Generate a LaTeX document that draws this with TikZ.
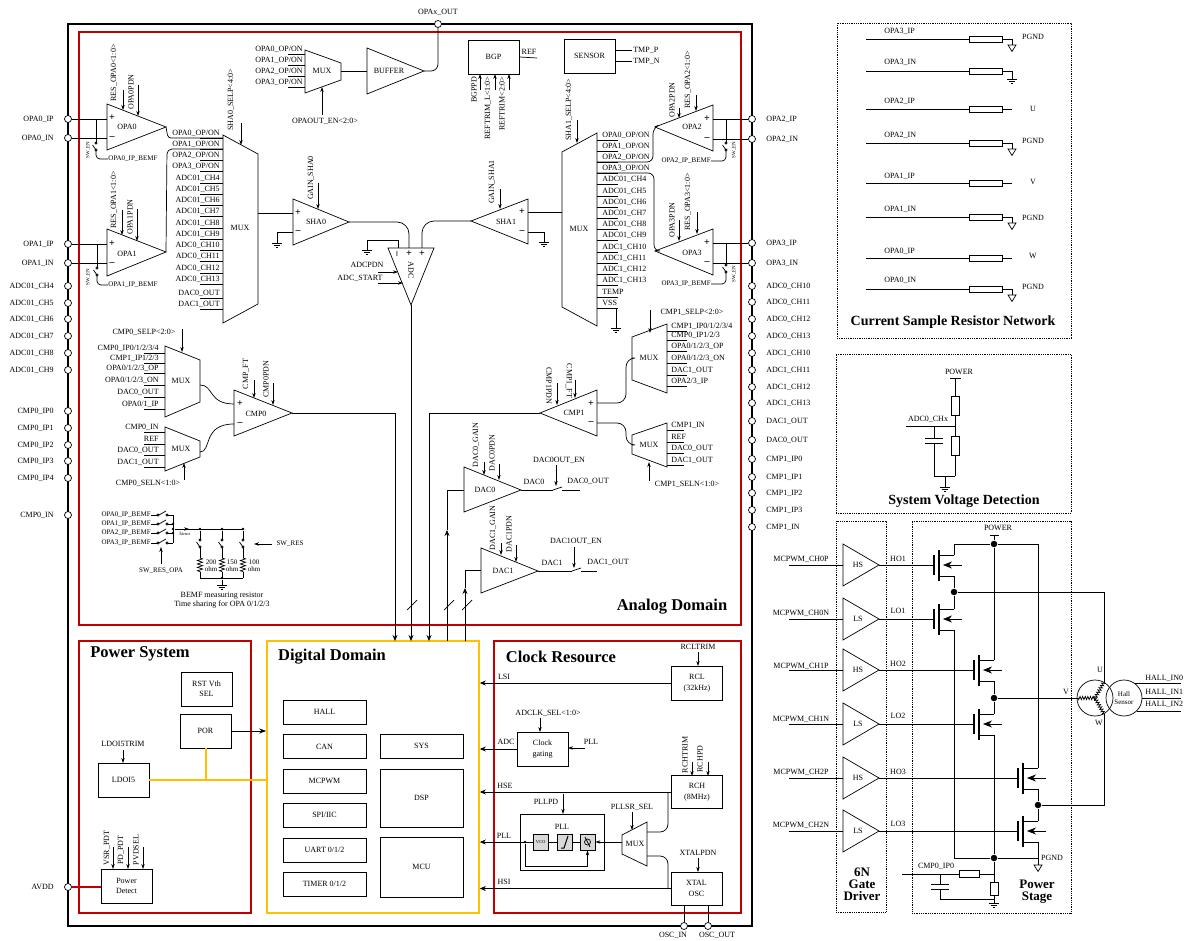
\documentclass[tikz,border=0pt]{standalone}
\usepackage{fontspec}
\setmainfont{Liberation Serif}
\usetikzlibrary{arrows.meta,decorations.pathmorphing}
\catcode`\_=12
\definecolor{domred}{HTML}{C00000}
\definecolor{domgold}{HTML}{FFC000}
\definecolor{cellgrey}{HTML}{D9D9D9}
\tikzset{
  lab/.style={font=\fontsize{8}{9}\selectfont,inner sep=0pt,align=center},
  smalllab/.style={font=\fontsize{7}{7.5}\selectfont,inner sep=0pt,align=center},
  tinylab/.style={font=\fontsize{5}{5}\selectfont,inner sep=0pt},
  domtitle/.style={font=\bfseries\fontsize{16.5}{18}\selectfont,inner sep=0pt},
  subtitle/.style={font=\bfseries\fontsize{14}{14}\selectfont,inner sep=0pt,align=center},
  stacktitle/.style={font=\bfseries\fontsize{13}{12}\selectfont,inner sep=0pt,align=center},
  sign/.style={font=\bfseries\fontsize{10}{10}\selectfont,inner sep=0pt},
  ctl/.style={-{Stealth[length=5pt,width=3.4pt]}},
  bigarr/.style={-{Stealth[length=6pt,width=5pt]}},
  pinpt/.style={circle,draw,fill=white,inner sep=0pt,minimum size=7pt},
  dotn/.style={circle,fill=black,inner sep=0pt,minimum size=6.5pt},
  dots/.style={circle,fill=black,inner sep=0pt,minimum size=2.6pt},
  block/.style={draw,line width=.9pt,fill=white,inner sep=0pt,align=center,font=\fontsize{8}{10.5}\selectfont},
  domain/.style={draw=#1,line width=1.7pt,inner sep=0pt},
  dotbox/.style={draw,densely dotted,line width=.8pt,inner sep=0pt},
  pllcell/.style={draw,line width=.8pt,fill=cellgrey,inner sep=0pt,minimum width=15pt,minimum height=16pt,font=\fontsize{4.5}{5}\selectfont},
  coilwire/.style={decorate,decoration={zigzag,segment length=2.6pt,amplitude=1.6pt}},
  resz/.style={decorate,decoration={zigzag,segment length=3.4pt,amplitude=2.6pt}},
  gnd/.pic={\coordinate (-o) at (0,0);
    \draw (-5,0) -- (5,0); \draw (-3.2,2.4) -- (3.2,2.4); \draw (-1.4,4.8) -- (1.4,4.8);},
  pgnd/.pic={\coordinate (-o) at (0,0);
    \draw (-4,0) -- (4,0) -- (0,6.5) -- cycle;},
  capv/.pic={\coordinate (-a) at (0,0); \coordinate (-b) at (0,5);
    \draw (-9,0) -- (9,0); \draw (-9,5) -- (9,5);},
  swv/.pic={\coordinate (-a) at (0,-1.2); \coordinate (-b) at (0,8.2);
    \draw (0,0) circle[radius=1.2]; \draw (0,7) circle[radius=1.2]; \draw (-3.5,2) -- (0,7);},
  swh/.pic={\coordinate (-a) at (-1.2,0); \coordinate (-b) at (10.2,0);
    \draw (0,0) circle[radius=1.2]; \draw (9,0) circle[radius=1.2]; \draw (1,0) -- (8,-4);},
  swd/.pic={\coordinate (-a) at (0,0); \coordinate (-b) at (9,0);
    \draw (0,0) -- (9,-3);},
  fet/.pic={\coordinate (-g) at (0,0); \coordinate (-d) at (20,-10); \coordinate (-s) at (20,11);
    \draw[line width=1.1pt] (0,-10) -- (0,10);
    \draw[line width=1.1pt] (5,-15) -- (5,16);
    \draw (5,-10) -- (20,-10);
    \draw (5,11) -- (20,11);
    \draw[-{Stealth[length=9pt,width=7pt]}] (28,0) -- (9,0);},
}
\newcommand{\muxins}[6]{%
  \foreach \y/\lab [count=\i] in {#6} {
    \node[lab,anchor=#5] (#1-t\i) at (#4,\y) {\lab};
    \coordinate (#1-in\i) at (#2,\y+5);
    \coordinate (#1-st\i) at (#3,\y+5);
    \draw (#1-st\i) -- (#1-in\i);
  }}
\begin{document}
\begin{tikzpicture}[x=1pt,y=-1pt,line width=.7pt]
  \useasboundingbox (0,0) rectangle (1189,941);

  % frames
  \node[draw,line width=1.2pt,minimum width=684pt,minimum height=902pt,inner sep=0pt] (chipbox) at (410,475) {};
  \node[domain=domred,minimum width=662pt,minimum height=593pt] (analog) at (410,328.5) {};
  \node[domain=domred,minimum width=172pt,minimum height=272pt] (power) at (165,777) {};
  \node[domain=domgold,minimum width=212pt,minimum height=272pt] (digital) at (373,777) {};
  \node[domain=domred,minimum width=247pt,minimum height=272pt] (clock) at (617.5,777) {};
  \node[domtitle] (analog-lab) at (672,607) {Analog Domain};
  \node[domtitle] (power-lab) at (140,654) {Power System};
  \node[domtitle] (digital-lab) at (332,657) {Digital Domain};
  \node[domtitle] (clock-lab) at (561,657) {Clock Resource};

  % pins
  \foreach \n/\y/\lab in {opa0ip/119/OPA0_IP,opa0in/138/OPA0_IN,opa1ip/244/OPA1_IP,opa1in/263/OPA1_IN,
      a4/286/ADC01_CH4,a5/303/ADC01_CH5,a6/319/ADC01_CH6,a7/336/ADC01_CH7,a8/353/ADC01_CH8,a9/370/ADC01_CH9,
      c0/411/CMP0_IP0,c1/428/CMP0_IP1,c2/445/CMP0_IP2,c3/461/CMP0_IP3,c4/478/CMP0_IP4,c5/515/CMP0_IN,avdd/887/AVDD} {
    \node[pinpt] (\n) at (68,\y) {};
    \node[lab,anchor=east] (\n-lab) at (54,\y) {\lab};
  }
  \foreach \n/\y/\lab in {opa2ip/119/OPA2_IP,opa2in/139/OPA2_IN,opa3ip/243/OPA3_IP,opa3in/263/OPA3_IN,
      b0/286/ADC0_CH10,b1/302/ADC0_CH11,b2/319/ADC0_CH12,b3/336/ADC0_CH13,
      d0/353/ADC1_CH10,d1/370/ADC1_CH11,d2/387/ADC1_CH12,d3/403/ADC1_CH13,
      e1/421/DAC1_OUT,e0/440/DAC0_OUT,f0/459/CMP1_IP0,f1/477/CMP1_IP1,f2/493/CMP1_IP2,f3/510/CMP1_IP3,f4/527/CMP1_IN} {
    \node[pinpt] (\n) at (752,\y) {};
    \node[lab,anchor=west] (\n-lab) at (766,\y) {\lab};
  }
  \node[pinpt] (opax) at (438,24) {};
  \node[pinpt] (oscin) at (684,926) {};
  \node[pinpt] (oscout) at (708,926) {};

  % amplifiers
  \draw (107,104) coordinate (opa0-u) -- (166,127) coordinate (opa0-t) -- (107,150) coordinate (opa0-d) -- cycle;
  \draw (107,229) coordinate (opa1-u) -- (166,252) coordinate (opa1-t) -- (107,276) coordinate (opa1-d) -- cycle;
  \draw (713,105) coordinate (opa2-u) -- (655,127) coordinate (opa2-t) -- (713,151) coordinate (opa2-d) -- cycle;
  \draw (713,229) coordinate (opa3-u) -- (655,251) coordinate (opa3-t) -- (713,275) coordinate (opa3-d) -- cycle;
  \draw (293,199) coordinate (sha0-u) -- (349,222) coordinate (sha0-t) -- (293,245) coordinate (sha0-d) -- cycle;
  \draw (528,199) coordinate (sha1-u) -- (471,221) coordinate (sha1-t) -- (528,244) coordinate (sha1-d) -- cycle;
  \draw (234,390) coordinate (cmp0-u) -- (292,413) coordinate (cmp0-t) -- (234,436) coordinate (cmp0-d) -- cycle;
  \draw (597,390) coordinate (cmp1-u) -- (540,413) coordinate (cmp1-t) -- (597,436) coordinate (cmp1-d) -- cycle;
  \draw (464,467) coordinate (dac0-u) -- (521,490) coordinate (dac0-t) -- (464,512) coordinate (dac0-d) -- cycle;
  \draw (481,548) coordinate (dac1-u) -- (538,571) coordinate (dac1-t) -- (481,593) coordinate (dac1-d) -- cycle;
  \draw (367,48) coordinate (buf-u) -- (424,71) coordinate (buf-t) -- (367,94) coordinate (buf-d) -- cycle;
  \draw (388,248) coordinate (adc-l) -- (434,248) coordinate (adc-r) -- (411,305) coordinate (adc-t) -- cycle;

  % muxes
  \draw (223,135) coordinate (muxa-u) -- (258,154) -- (258,304) -- (223,323) -- cycle;
  \draw (562,152) -- (597,133) coordinate (muxb-u) -- (597,326) -- (562,307) -- cycle;
  \draw (305,50) -- (341,63) -- (341,80) -- (305,93) -- cycle;
  \draw (165,346) -- (200,360) -- (200,402) -- (165,417) -- cycle;
  \draw (165,427) -- (200,441) -- (200,457) -- (165,471) -- cycle;
  \draw (632,337) -- (667,324) -- (667,393) -- (632,380) -- cycle;
  \draw (632,435) -- (667,423) -- (667,467) -- (632,454) -- cycle;
  \draw (622,835) -- (647,822) -- (647,866) -- (622,854) -- cycle;

  \muxins{muxa}{223}{200}{220}{east}{133/{OPA0_OP/ON},144/{OPA1_OP/ON},155/{OPA2_OP/ON},166/{OPA3_OP/ON},178/ADC01_CH4,189/ADC01_CH5,200/ADC01_CH6,211/ADC01_CH7,223/ADC01_CH8,234/ADC01_CH9,245/ADC0_CH10,256/ADC0_CH11,268/ADC0_CH12,279/ADC0_CH13,293/DAC0_OUT,304/DAC1_OUT}
  \muxins{muxb}{597}{618}{602}{west}{135/{OPA0_OP/ON},146/{OPA1_OP/ON},157/{OPA2_OP/ON},168/{OPA3_OP/ON},179/ADC01_CH4,191/ADC01_CH5,202/ADC01_CH6,213/ADC01_CH7,224/ADC01_CH8,235/ADC01_CH9,247/ADC1_CH10,258/ADC1_CH11,269/ADC1_CH12,280/ADC1_CH13,292/TEMP,303/VSS}
  \muxins{muxc}{305}{288}{303}{east}{49/{OPA0_OP/ON},60/{OPA1_OP/ON},71/{OPA2_OP/ON},82/{OPA3_OP/ON}}
  \muxins{muxd}{165}{144}{159}{east}{348/{CMP0_IP0/1/2/3/4},358/{CMP1_IP1/2/3},368/{OPA0/1/2/3_OP},380/{OPA0/1/2/3_ON},392/DAC0_OUT,404/{OPA0/1_IP}}
  \muxins{muxe}{165}{144}{159}{east}{427/CMP0_IN,439/REF,450/DAC0_OUT,462/DAC1_OUT}
  \muxins{muxf}{667}{687}{671}{west}{326/{CMP1_IP0/1/2/3/4},335/{CMP0_IP1/2/3},346/{OPA0/1/2/3_OP},358/{OPA0/1/2/3_ON},370/DAC1_OUT,381/{OPA2/3_IP}}
  \muxins{muxg}{667}{684}{671}{west}{425/CMP1_IN,437/REF,448/DAC0_OUT,460/DAC1_OUT}

  % plain labels
  \foreach \n/\x/\y/\lab in {l1/127/127/OPA0,l2/127/254/OPA1,l3/692/127/OPA2,l4/692/253/OPA3,
      l5/240/228/MUX,l6/579/229/MUX,l7/322/71/MUX,l8/181/381/MUX,l9/181/449/MUX,l10/649/358/MUX,l11/649/445/MUX,
      l12/389/71/BUFFER,l13/316/222/SHA0,l14/506/222/SHA1,l15/256/414/CMP0,l16/574/413/CMP1,l17/485/490/DAC0,l18/503/571/DAC1,
      l19/325/121/{OPAOUT_EN<2:0>},l20/529/52/REF,l21/367/265/ADCPDN,l22/360/278/ADC_START,
      l23/144/332/{CMP0_SELP<2:0>},l24/148/483/{CMP0_SELN<1:0>},l25/692/312/{CMP1_SELP<2:0>},l26/687/484/{CMP1_SELN<1:0>},
      l27/534/482/DAC0,l28/588/481/DAC0_OUT,l29/559/460/DAC0OUT_EN,l30/552/563/DAC1,l31/608/562/DAC1_OUT,l32/576/541/DAC1OUT_EN,
      l33/123/744/LDOI5TRIM,l34/698/647/RCLTRIM,l35/504/677/LSI,l36/506/742/ADC,l37/548/713/{ADCLK_SEL<1:0>},l38/591/742/PLL,
      l39/505/786/HSE,l40/546/802/PLLPD,l41/504/836/PLL,l42/632/807/PLLSR_SEL,l43/635/844/MUX,l44/504/882/HSI,l45/698/853/XTALPDN,
      l46/673/935/OSC_IN,l47/717/935/OSC_OUT,l48/438/12/OPAx_OUT} {
    \node[lab] (\n) at (\x,\y) {\lab};
  }
  \foreach \n/\x/\y/\lab in {r1/114/73/{RES_OPA0<1:0>},r2/131/92/OPA0PDN,r3/114/200/{RES_OPA1<1:0>},r4/130/217/OPA1PDN,
      r5/231/100/{SHA0_SELP<4:0>},r6/311/178/GAIN_SHA0,r7/474/90/BGPPD,r8/488/108/{REFTRIM_L<1:0>},r9/502/104/{REFTRIM<2:0>},
      r10/569/110/{SHA1_SELP<4:0>},r11/492/182/GAIN_SHA1,r12/672/100/OPA2PDN,r13/688/80/{RES_OPA2<1:0>},r14/672/220/OPA3PDN,r15/688/202/{RES_OPA3<1:0>},
      r16/246/374/CMP_FT,r17/266/379/CMP0PDN,r18/476/445/DAC0_GAIN,r19/492/453/DAC0PDN,r20/493/528/DAC1_GAIN,r21/509/534/DAC1PDN,
      r22/107/848/VSR_PDT,r23/121/850/PD_PDT,r24/136/850/PVDSEL,r25/685/755/RCHTRIM,r26/700/759/RCHPD} {
    \node[lab,rotate=90] (\n) at (\x,\y) {\lab};
  }
  \node[lab,rotate=-90] (adc-lab) at (411,270) {ADC};
  \node[lab,rotate=-90] (cmp1pdn) at (549,386) {CMP1PDN};
  \node[lab,rotate=-90] (cmp1ft) at (569,381) {CMP1_FT};

  % plus and minus inputs
  \foreach \n/\x/\yp/\ym in {opa0/112/118/138,opa1/112/244/264,sha0/298/213/232,sha1/522/212/232,opa2/707/119/139,opa3/707/243/263,cmp0/240/404/424,cmp1/591/404/423} {
    \node[sign] (\n-plus) at (\x,\yp) {+};
    \node[sign] (\n-minus) at (\x,\ym) {–};
  }
  \node[sign,rotate=90] (adc-minus) at (398,254) {–};
  \node[sign] (adc-plus1) at (409,254) {+};
  \node[sign] (adc-plus2) at (422,254) {+};

  % control arrows
  \foreach \xa/\ya/\xb/\yb [count=\i] in {123/90/123/110,138/85/138/116,122/210/122/235,137/209/137/241,241/123/241/145,318/183/318/209,
      322/115/322/87,378/272/398/272,378/283/403/283,480/90/480/74,495/90/495/74,509/90/509/74,577/120/577/143,500/189/500/209,
      679/108/679/118,696/95/696/111,679/220/679/241,697/212/697/234,182/329/182/352,184/480/184/463,254/380/254/398,273/383/273/405,
      650/310/650/333,649/481/649/462,557/383/557/405,575/380/575/398,484/462/484/475,499/464/499/480,556/465/556/486,
      501/543/501/555,516/545/516/562,574/547/574/568,272/544/254/544,161/564/161/547,123/750/123/763,
      113/847/113/869,128/847/128/869,143/847/143/869,698/652/698/666,540/718/540/732,585/748/568/748,692/762/692/776,708/762/708/776,
      563/794/563/814,632/812/632/830,698/858/698/872} {
    \coordinate (ca\i) at (\xa,\ya);
    \coordinate (cb\i) at (\xb,\yb);
    \draw[ctl] (ca\i) -- (cb\i);
  }

  % op amp inputs and BEMF taps
  \foreach \n/\s in {opa0ip/opa0-u,opa0in/opa0-u,opa1ip/opa1-u,opa1in/opa1-u,opa2ip/opa2-u,opa2in/opa2-u,opa3ip/opa3-u,opa3in/opa3-u}
    \draw (\n) -- (\n -| \s);
  \foreach \n/\x/\yt/\ya/\ye/\xe/\anc/\lab/\sy in {tp0/96/119/143/159/108/west/OPA0_IP_BEMF/150,tp1/97/244/268/285/108/west/OPA1_IP_BEMF/277,
      tp2/726/119/143/161/711/east/OPA2_IP_BEMF/150,tp3/726/243/265/284/711/east/OPA3_IP_BEMF/274} {
    \coordinate (\n) at (\x,\yt);
    \pic (\n-sw) at (\x,\ya) {swv};
    \node[smalllab,anchor=\anc] (\n-lab) at (\xe,\ye) {\lab};
    \draw (\n) -- (\n-sw-a);
    \draw[rounded corners=4pt] (\n-sw-b) |- (\n-lab.\anc);
  }
  \foreach \n/\x/\y in {sw0/88/150,sw1/88/277,sw2/734/150,sw3/734/274}
    \node[tinylab,rotate=90] (\n) at (\x,\y) {SW_EN};

  % analog wiring
  \draw[rounded corners=3pt] (opa0-t) -- (168,138) -- (muxa-in1);
  \draw[rounded corners=5pt] (opa1-t) -- (167,149) -- (muxa-in2);
  \draw[rounded corners=6pt] (opa2-t) -- (653,128) -- (653,162) -- (muxb-in3);
  \draw[rounded corners=6pt] (opa3-t) -- (654,251) -- (654,173) -- (muxb-in4);
  \coordinate (muxa-o) at (258,213);
  \draw (muxa-o) -- (muxa-o -| sha0-u);
  \coordinate (muxb-o) at (562,212);
  \draw (muxb-o) -- (muxb-o -| sha1-u);
  \pic (g1) at (277,243) {gnd};
  \coordinate (sha0-m) at (293,232);
  \draw (sha0-m) -| (g1-o);
  \pic (g2) at (544,242) {gnd};
  \coordinate (sha1-m) at (528,232);
  \draw (sha1-m) -| (g2-o);
  \pic (g3) at (367,250) {gnd};
  \coordinate (adc-im) at (398,248);
  \coordinate (adc-ip1) at (409,248);
  \coordinate (adc-ip2) at (422,248);
  \draw (adc-im) -- (398,240) -- (367,240) -- (g3-o);
  \draw[rounded corners=12pt] (sha0-t) -- (409,222) -- (adc-ip1);
  \draw[rounded corners=12pt] (sha1-t) -- (422,221) -- (adc-ip2);
  \pic (g4) at (616,328) {gnd};
  \draw (muxb-in16) -| (g4-o);
  \coordinate (muxc-o) at (341,71);
  \draw (muxc-o) -- (muxc-o -| buf-u);
  \draw[rounded corners=7pt] (buf-t) -- (438,71) -- (opax);
  % comparators
  \coordinate (muxd-o) at (200,385);
  \coordinate (cmp0-p) at (234,404);
  \draw (muxd-o) .. controls (214,385) and (208,404) .. (cmp0-p);
  \coordinate (muxe-o) at (200,452);
  \coordinate (cmp0-m) at (234,424);
  \draw (muxe-o) .. controls (212,452) and (202,424) .. (cmp0-m);
  \coordinate (cmp1-p) at (597,403);
  \coordinate (muxf-o) at (632,358);
  \draw[rounded corners=9pt] (cmp1-p) -- (626,403) -- (626,358) -- (muxf-o);
  \coordinate (cmp1-m) at (597,423);
  \coordinate (muxg-o) at (632,445);
  \draw[rounded corners=9pt] (cmp1-m) -- (626,423) -- (626,445) -- (muxg-o);
  % digital bus
  \coordinate (dig-a) at (395,641);
  \coordinate (dig-b) at (411,641);
  \coordinate (dig-c) at (429,641);
  \coordinate (dig-d) at (447,641);
  \coordinate (dig-e) at (465,641);
  \coordinate (dac0-m) at (447,530);
  \coordinate (dac1-m) at (465,588);
  \draw[bigarr] (cmp0-t) -| (dig-a);
  \draw[bigarr] (adc-t) -- (dig-b);
  \draw[bigarr] (cmp1-t) -| (dig-c);
  \draw[bigarr] (dig-d) -- (dac0-m);
  \draw[bigarr] (dig-e) -- (dac1-m);
  \coordinate (dac0-i) at (464,490);
  \coordinate (dac1-i) at (481,570);
  \draw (dac0-m) |- (dac0-i);
  \draw (dac1-m) |- (dac1-i);
  \foreach \x in {412,449,467}
    \draw (\x-5,610) -- (\x+5,600);
  % dac switches
  \pic (swa) at (553,490) {swd};
  \pic (swb) at (572,571) {swd};
  \coordinate (dac0-o) at (580,490);
  \coordinate (dac1-o) at (597,571);
  \draw (dac0-t) -- (swa-a);
  \draw (swa-b) -- (dac0-o);
  \draw (dac1-t) -- (swb-a);
  \draw (swb-b) -- (dac1-o);

  % bandgap and sensor
  \node[block,minimum width=51pt,minimum height=34pt] (bgp) at (493.5,57) {BGP};
  \coordinate (bgp-o) at (537,58);
  \draw (bgp.east) -- (bgp-o);
  \node[block,minimum width=51pt,minimum height=34pt] (sensor) at (589.5,56) {SENSOR};
  \foreach \n/\y/\lab in {tmpp/50/TMP_P,tmpn/61/TMP_N} {
    \coordinate (\n-a) at (615,\y);
    \coordinate (\n-b) at (632,\y);
    \draw (\n-a) -- (\n-b);
    \node[lab,anchor=west] (\n) at (633,\y) {\lab};
  }

  % BEMF resistors
  \foreach \y/\lab [count=\i] in {515/OPA0_IP_BEMF,524/OPA1_IP_BEMF,533/OPA2_IP_BEMF,543/OPA3_IP_BEMF} {
    \node[smalllab,anchor=east] (bm\i) at (151,\y) {\lab};
    \pic (bs\i) at (158,\y) {swh};
    \coordinate (bb\i) at (173,\y);
    \draw (bm\i.east) -- (bs\i-a);
    \draw (bs\i-b) -- (bb\i);
  }
  \draw (bb1) -- (bb4);
  \node[dots] (bjoin) at (173,529) {};
  \node[dots] (bjoin2) at (173,524) {};
  \node[dots] (bjoin3) at (173,533) {};
  \coordinate (bend) at (243,529);
  \draw (bjoin) -- (bend);
  \coordinate (iarr-a) at (182,529);
  \coordinate (iarr-b) at (189,529);
  \draw[ctl] (iarr-a) -- (iarr-b);
  \node[tinylab,anchor=west] (ilab) at (179,534) {I\raisebox{-.5pt}{\fontsize{4}{4}\selectfont detect}};
  \foreach \x/\r/\lx in {200/200/211,222/150/232,243/100/254} {
    \node[dots] (bt\x) at (\x,529) {};
    \pic (bw\x) at (\x,540) {swv};
    \coordinate (br\x-a) at (\x,558);
    \coordinate (br\x-b) at (\x,572);
    \coordinate (br\x-c) at (\x,578);
    \draw (bt\x) -- (bw\x-a);
    \draw (bw\x-b) -- (br\x-a);
    \draw[resz] (br\x-a) -- (br\x-b);
    \draw (br\x-b) -- (br\x-c);
    \node[smalllab] (bv\x) at (\lx,565.5) {\r\\ohm};
  }
  \draw (br200-c) -- (br243-c);
  \node[dots] (bgnd) at (222,578) {};
  \pic (g5) at (222,585) {gnd};
  \draw (bgnd) -- (g5-o);
  \node[smalllab] (swres) at (290,544) {SW_RES};
  \node[smalllab] (swresopa) at (161,571) {SW_RES_OPA};
  \node[lab] (bemf-lab) at (222,600) {BEMF measuring resistor\\Time sharing for OPA 0/1/2/3};

  % power system
  \node[block,minimum width=51pt,minimum height=34pt] (rstvth) at (206.5,689) {RST Vth\\SEL};
  \node[block,minimum width=51pt,minimum height=34pt] (por) at (205.5,731) {POR};
  \node[block,minimum width=51pt,minimum height=34pt] (ldo) at (123.5,780) {LDOI5};
  \node[block,minimum width=51pt,minimum height=34pt] (pdet) at (126.5,886) {Power\\Detect};
  \draw[-{Stealth[length=7pt,width=5pt]}] (por.east) -- (por.east -| digital.west);
  \draw[domgold,line width=2pt] (ldo.east) -- (ldo.east -| digital.west);
  \draw[domgold,line width=2pt] (por.south) -- (por.south |- ldo);
  \draw[domred,line width=1.5pt] (avdd) -- (avdd -| pdet.west);

  % digital domain
  \foreach \n/\y/\lab in {hall/712/HALL,can/746.5/CAN,mcpwm/781/MCPWM,spi/815/{SPI/IIC},uart/850/{UART 0/1/2},timer/884/{TIMER 0/1/2}}
    \node[block,minimum width=83pt,minimum height=24pt] (\n) at (324.5,\y) {\lab};
  \foreach \n/\y/\h/\lab in {sys/746/24/SYS,dsp/798/58/DSP,mcu/867/60/MCU}
    \node[block,minimum width=83pt,minimum height=\h pt] (\n) at (421.5,\y) {\lab};

  % clock resource
  \node[block,minimum width=51pt,minimum height=34pt] (rcl) at (697,683) {RCL\\(32kHz)};
  \node[block,minimum width=51pt,minimum height=34pt] (gate) at (542.5,749) {Clock\\gating};
  \node[block,minimum width=51pt,minimum height=33pt] (rch) at (697,792) {RCH\\(8MHz)};
  \node[block,minimum width=51pt,minimum height=33pt] (xtal) at (696.5,888.5) {XTAL\\OSC};
  \node[block,minimum width=84pt,minimum height=56pt] (pllbox) at (562,842) {};
  \node[lab] (pll-lab) at (562,827) {PLL};
  \node[pllcell] (vco) at (540.5,842) {VCO};
  \node[pllcell] (lpf) at (564.5,842) {};
  \node[pllcell] (pfd) at (587.5,842) {};
  \draw[line width=1pt] (561,848) -- (564,848) -- (568,836);
  \draw (587.5,842) circle[radius=3];
  \draw (585,837) -- (590,847);
  \foreach \n in {rcl,gate,rch,xtal}
    \draw[bigarr] (\n.west) -- (\n.west -| digital.east);
  \draw[bigarr] (vco.west) -- (vco.west -| digital.east);
  \draw (pfd) -- (lpf);
  \draw (lpf) -- (vco);
  \node[dots] (fbj) at (525,842) {};
  \draw[ctl] (fbj) -- (525,866) -| (pfd.south);
  \coordinate (pmux-o) at (622,842);
  \draw[ctl] (pmux-o) -- (pfd.east);
  \coordinate (pmux-a) at (647,832);
  \coordinate (pmux-b) at (647,856);
  \coordinate (hse-j) at (668,792);
  \coordinate (hsi-j) at (668,888.5);
  \draw[rounded corners=8pt] (pmux-a) -- (668,832) -- (hse-j);
  \draw[rounded corners=8pt] (pmux-b) -- (668,856) -- (hsi-j);
  \draw (oscin) -- (oscin |- xtal.south);
  \draw (oscout) -- (oscout |- xtal.south);

  % current sample resistors
  \node[dotbox,minimum width=234pt,minimum height=315pt] (csbox) at (954,180.5) {};
  \foreach \y/\ty/\lab [count=\i] in {39/31/OPA3_IP,71/62/OPA3_IN,109/101/OPA2_IP,143/135/OPA2_IN,183/176/OPA1_IP,217/209/OPA1_IN,258/251/OPA0_IP,289/280/OPA0_IN} {
    \coordinate (rs\i-a) at (866,\y);
    \coordinate (rs\i-b) at (1012,\y);
    \node[draw,inner sep=0pt,minimum width=33pt,minimum height=6pt] (rs\i) at (985.5,\y) {};
    \draw (rs\i-a) -- (rs\i.west);
    \draw (rs\i.east) -- (rs\i-b);
    \node[lab,anchor=west] (rs\i-lab) at (884,\ty) {\lab};
  }
  \foreach \i/\y in {1/39,4/143,6/217,8/289} {
    \pic (rp\i) at (1012,\y+6) {pgnd};
    \draw (rs\i-b) -- (rp\i-o);
  }
  \pic (rp2) at (1012,79) {gnd};
  \draw (rs2-b) -- (rp2-o);
  \foreach \n/\y/\lab in {pa/37/PGND,pb/109/U,pc/141/PGND,pd/182/V,pe/218/PGND,pf/256/W,pg/287/PGND}
    \node[lab] (\n) at (1033,\y) {\lab};
  \node[subtitle] (cs-lab) at (953,322) {Current Sample Resistor Network};

  % system voltage detection
  \node[dotbox,minimum width=235pt,minimum height=159pt] (svbox) at (953.5,433.5) {};
  \node[lab] (sv-pow) at (959,372) {POWER};
  \coordinate (sv-top) at (955,378);
  \draw (950,378) -- (961,378);
  \node[draw,inner sep=0pt,minimum width=8pt,minimum height=19pt] (sv1) at (955,405.5) {};
  \node[draw,inner sep=0pt,minimum width=8pt,minimum height=19pt] (sv2) at (955,445.5) {};
  \coordinate (sv-j) at (955,426);
  \coordinate (sv-a) at (906,426);
  \coordinate (sv-c) at (934,426);
  \coordinate (sv-b) at (955,476);
  \coordinate (sv-d) at (934,476);
  \pic (svc) at (934,438) {capv};
  \pic (g6) at (945,487) {gnd};
  \draw (sv-top) -- (sv1.north);
  \draw (sv1.south) -- (sv2.north);
  \draw (sv2.south) -- (sv-b);
  \draw (sv-a) -- (sv-j);
  \draw (sv-c) -- (svc-a);
  \draw (svc-b) -- (sv-d);
  \draw (sv-d) -- (sv-b);
  \coordinate (sv-g) at (945,476);
  \draw (sv-g) -- (g6-o);
  \node[lab] (sv-adc) at (928,419) {ADC0_CHx};
  \node[subtitle] (sv-lab) at (964,501) {System Voltage Detection};

  % gate driver and power stage
  \node[dotbox,minimum width=50pt,minimum height=391pt] (gdbox) at (861,716.5) {};
  \node[dotbox,minimum width=159pt,minimum height=392pt] (psbox) at (991.5,717) {};
  \foreach \n/\k/\y/\lab/\o/\ly/\oy/\x in {1/HS/565/MCPWM_CH0P/HO1/559/559/934,2/LS/619/MCPWM_CH0N/LO1/613/611/934,3/HS/670/MCPWM_CH1P/HO2/666/664/974,
      4/LS/724/MCPWM_CH1N/LO2/719/716/974,5/HS/778/MCPWM_CH2P/HO3/772/772/1018,6/LS/831/MCPWM_CH2N/LO3/825/824/1018} {
    \draw (843,\y-21) coordinate (gd\n-u) -- (879,\y) coordinate (gd\n-t) -- (843,\y+21) -- cycle;
    \node[lab] (gd\n) at (858,\y) {\k};
    \coordinate (gd\n-i) at (789,\y);
    \draw (gd\n-i) -- (gd\n-i -| gd\n-u);
    \node[lab] (gd\n-in) at (801,\ly) {\lab};
    \node[lab] (gd\n-out) at (898,\oy) {\o};
    \pic (q\n) at (\x,\y) {fet};
    \draw (gd\n-t) -- (q\n-g);
  }
  \node[dotn] (npow) at (994,544) {};
  \node[dotn] (nu) at (954,592) {};
  \node[dotn] (nv) at (994,698) {};
  \node[dotn] (nw) at (1038,805) {};
  \node[dotn] (ngnd) at (994,858) {};
  \coordinate (powbar) at (994,535);
  \draw (990,535) -- (999,535);
  \node[lab] (pow-lab) at (998,528) {POWER};
  \draw (npow) -- (powbar);
  \draw (q1-d) |- (npow);
  \draw (npow) -| (q5-d);
  \draw (npow) -- (q3-d);
  \draw (q1-s) -- (nu);
  \draw (q2-d) -- (nu);
  \draw (q2-s) |- (ngnd);
  \draw (q3-s) -- (nv);
  \draw (q4-d) -- (nv);
  \draw (q4-s) -- (ngnd);
  \draw (q5-s) -- (nw);
  \draw (q6-d) -- (nw);
  \coordinate (pg-j) at (1038,858);
  \draw (q6-s) -- (pg-j);
  \draw (ngnd) -- (pg-j);
  \pic (pgs) at (1038,865) {pgnd};
  \draw (pg-j) -- (pgs-o);
  \node[lab] (pgs-lab) at (1052,858) {PGND};
  \node[stacktitle] (gd-lab) at (862,884) {6N\\Gate\\Driver};
  \node[stacktitle] (ps-lab) at (1037,892) {Power\\Stage};

  % motor and hall sensor
  \node[draw,circle,inner sep=0pt,minimum size=36pt] (motor) at (1095,698) {};
  \node[draw,circle,inner sep=0pt,minimum size=36pt,font=\fontsize{7}{8.5}\selectfont,align=center] (hall) at (1124,698) {Hall\\Sensor};
  \coordinate (mc) at (1095,698);
  \coordinate (mu) at (1104,682);
  \coordinate (mv) at (1078,698);
  \coordinate (mw) at (1104,714);
  \draw (nu) -| (mu);
  \draw (nw) -| (mw);
  \draw (nv) -- (mv);
  \draw[coilwire] (mc) -- (mu);
  \draw[coilwire] (mc) -- (mv);
  \draw[coilwire] (mc) -- (mw);
  \node[lab] (mu-lab) at (1100,670) {U};
  \node[lab] (mv-lab) at (1066,692) {V};
  \node[lab] (mw-lab) at (1099,723) {W};
  \foreach \a/\y/\ty/\lab in {52/684/678/HALL_IN0,0/698/692/HALL_IN1,-47/711/704/HALL_IN2} {
    \coordinate (hl\y) at (1181,\y);
    \draw (hall.\a) -- (hall.\a -| hl\y);
    \node[lab,anchor=west] (hl\y-lab) at (1145,\ty) {\lab};
  }

  % shunt and filter of the power stage
  \coordinate (cs-a) at (902,874);
  \coordinate (cs-j) at (994,874);
  \coordinate (cs-c) at (940,874);
  \coordinate (cs-e) at (940,899);
  \coordinate (cs-f) at (994,899);
  \node[draw,inner sep=0pt,minimum width=20pt,minimum height=7pt] (cs-r) at (969,874) {};
  \node[draw,inner sep=0pt,minimum width=8pt,minimum height=13pt] (cs-s) at (994,888.5) {};
  \pic (csc) at (940,884) {capv};
  \pic (g7) at (994,903) {gnd};
  \draw (cs-a) -- (cs-r.west);
  \draw (cs-r.east) -- (cs-j);
  \draw (ngnd) -- (cs-s.north);
  \draw (cs-s.south) -- (g7-o);
  \draw (cs-c) -- (csc-a);
  \draw (csc-b) -- (cs-e);
  \draw (cs-e) -- (cs-f);
  \node[lab] (cs-lab2) at (936,866) {CMP0_IP0};
\end{tikzpicture}
\end{document}
